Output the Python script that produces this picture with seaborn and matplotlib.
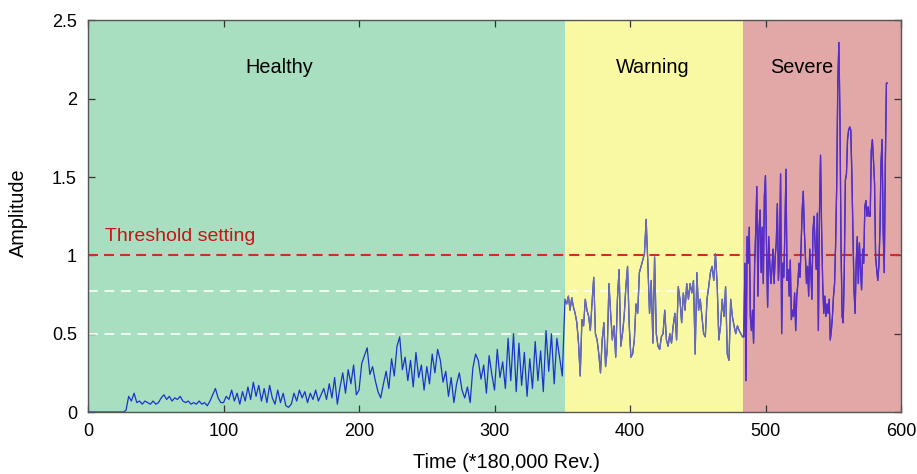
import numpy as np
import pandas as pd
import matplotlib
matplotlib.use("Agg")
import matplotlib.pyplot as plt
import seaborn as sns

# ---------------- data ----------------
healthy_amp = [
    0, 0, 0, 0, 0, 0, 0, 0, 0, 0, 0, 0, 0, 0,
    0.01, 0.10, 0.07, 0.12, 0.06, 0.07, 0.05, 0.07, 0.06, 0.05,
    0.07, 0.05, 0.06, 0.09, 0.11, 0.08, 0.10, 0.07, 0.09, 0.08,
    0.10, 0.07, 0.06, 0.07, 0.05, 0.06, 0.05, 0.07, 0.05, 0.06,
    0.04, 0.07, 0.11, 0.15, 0.09, 0.06, 0.06, 0.10, 0.08, 0.14,
    0.07, 0.12, 0.05, 0.13, 0.07, 0.16, 0.08, 0.19, 0.10, 0.17,
    0.07, 0.15, 0.06, 0.17, 0.09, 0.05, 0.14, 0.06, 0.12, 0.04,
    0.03, 0.05, 0.12, 0.07, 0.14, 0.09, 0.13, 0.06, 0.12, 0.08,
    0.14, 0.07, 0.11, 0.15, 0.08, 0.18, 0.09, 0.22, 0.05, 0.16,
    0.25, 0.12, 0.27, 0.18, 0.30, 0.11, 0.14, 0.31, 0.36, 0.41,
    0.24, 0.29, 0.20, 0.13, 0.09, 0.18, 0.26, 0.15, 0.34, 0.23,
    0.42, 0.48, 0.27, 0.35, 0.20, 0.33, 0.16, 0.38, 0.22, 0.30,
    0.14, 0.29, 0.18, 0.37, 0.25, 0.40, 0.33, 0.19, 0.26, 0.10,
    0.22, 0.06, 0.18, 0.25, 0.14, 0.09, 0.16, 0.06, 0.28, 0.37,
    0.33, 0.21, 0.30, 0.12, 0.36, 0.24, 0.14, 0.40, 0.22, 0.32,
    0.15, 0.47, 0.20, 0.50, 0.13, 0.44, 0.17, 0.38, 0.10, 0.34,
    0.15, 0.45, 0.20, 0.39, 0.13, 0.52, 0.26, 0.50, 0.18, 0.47,
    0.35, 0.23,
]

warning_amp = [
    0.72, 0.69, 0.74, 0.65, 0.73, 0.67, 0.63, 0.57, 0.44, 0.23,
    0.59, 0.55, 0.72, 0.65, 0.61, 0.52, 0.70, 0.86, 0.50, 0.46,
    0.37, 0.25, 0.46, 0.57, 0.29, 0.40, 0.82, 0.63, 0.46, 0.55,
    0.35, 0.72, 0.91, 0.42, 0.50, 0.61, 0.80, 0.93, 0.55, 0.35,
    0.37, 0.46, 0.69, 0.63, 0.89, 0.93, 0.97, 1.01, 1.23, 0.95,
    0.63, 0.84, 0.44, 0.99, 0.50, 0.42, 0.40, 0.48, 0.50, 0.65,
    0.46, 0.42, 0.50, 0.44, 0.55, 0.63, 0.46, 0.80, 0.72, 0.57,
    0.76, 0.65, 0.82, 0.72, 0.82, 0.76, 0.84, 0.37, 0.89, 0.65,
    0.72, 0.61, 0.50, 0.48, 0.72, 0.80, 0.89, 0.93, 0.84, 1.01,
    0.82, 0.46, 0.55, 0.72, 0.61, 0.80, 0.37, 0.33, 0.72, 0.61,
    0.55, 0.50, 0.55, 0.52, 0.50, 0.48,
]

severe_amp = [
    0.48, 0.95, 0.20, 1.12, 0.95, 1.18, 0.61, 0.52, 0.65, 0.44,
    0.95, 1.16, 1.44, 0.74, 1.16, 1.29, 0.89, 1.18, 0.82, 1.38,
    1.51, 1.04, 0.67, 1.12, 0.95, 0.82, 0.91, 1.04, 0.82, 0.99,
    1.08, 1.33, 0.84, 0.99, 1.52, 0.50, 0.95, 0.86, 1.16, 1.55,
    0.84, 0.91, 0.74, 0.97, 0.59, 0.65, 0.61, 0.76, 0.52, 0.74,
    0.82, 0.95, 0.86, 1.06, 1.29, 1.41, 1.16, 0.99, 0.82, 0.93,
    0.74, 1.04, 0.91, 0.72, 1.16, 1.25, 1.06, 0.91, 1.27, 0.52,
    1.27, 1.64, 1.16, 0.82, 0.63, 0.74, 0.61, 0.69, 0.63, 0.72,
    0.46, 0.52, 0.61, 0.74, 0.82, 1.08, 1.46, 2.12, 2.36, 1.87,
    1.04, 0.61, 0.57, 0.91, 1.48, 1.52, 1.74, 1.80, 1.82, 1.80,
    1.52, 1.16, 0.78, 0.63, 0.95, 1.12, 0.82, 1.08, 0.91, 0.78,
    1.04, 0.95, 1.31, 1.35, 1.25, 1.31, 1.25, 1.25, 1.67, 1.74,
    1.61, 1.46, 0.99, 0.91, 0.84, 0.93, 1.16, 1.59, 1.74, 1.16,
    0.89, 1.59, 2.10, 2.10,
]

stage_names = ["Healthy", "Warning", "Severe"]
stage_bounds = [0, 352, 483, 600]          # x extent of each stage
stage_spans = [(0, 350), (352, 483), (484, 590)]  # time span covered by each series
threshold = 1.0
ref_levels = [0.77, 0.5]
ref_ends = [468, 352]

# ---------------- styling ----------------
sns.set_theme(style="white")
plt.rcParams["font.family"] = ["Liberation Sans", "DejaVu Sans"]

bg_colors = ["#a7dfc0", "#f9f9a4", "#e2a7a7"]
line_colors = ["#1b33cc", "#6a6ab8", "#5a2bc6"]

series = [healthy_amp, warning_amp, severe_amp]
frames = []
for name, (t0, t1), vals in zip(stage_names, stage_spans, series):
    frames.append(pd.DataFrame({
        "time": np.linspace(t0, t1, len(vals)),
        "amplitude": vals,
        "stage": name,
    }))
df = pd.concat(frames, ignore_index=True)

fig = plt.figure(figsize=(9.17, 4.74), dpi=100)
ax = fig.add_axes([0.096, 0.1308, 0.8866, 0.826])

for i, c in enumerate(bg_colors):
    ax.axvspan(stage_bounds[i], stage_bounds[i + 1], color=c, lw=0, zorder=0)

for lvl, end in zip(ref_levels, ref_ends):
    ax.hlines(lvl, 0, end, colors="white", linestyles=(0, (5, 3.5)),
              lw=1.4, alpha=0.85, zorder=1)

ax.axhline(threshold, color="#d42a2a", ls=(0, (4.8, 2.9)), lw=1.5, zorder=2)

# full series in blue, then later stages recoloured on top
sns.lineplot(data=df, x="time", y="amplitude", estimator=None, color=line_colors[0],
             lw=0.9, ax=ax, zorder=3)
for name, col in zip(stage_names[1:], line_colors[1:]):
    sns.lineplot(data=df[df["stage"] == name], x="time", y="amplitude", estimator=None,
                 color=col, lw=0.9, ax=ax, zorder=4)

ax.set_xlim(0, 600)
ax.set_ylim(0, 2.5)
ax.set_xticks([0, 100, 200, 300, 400, 500, 600])
ax.set_yticks([0, 0.5, 1, 1.5, 2, 2.5])
ax.set_yticklabels(["0", "0.5", "1", "1.5", "2", "2.5"])
ax.tick_params(direction="in", length=5, width=0.9, color="#333333",
               top=True, right=True, bottom=True, left=True,
               labelsize=13, pad=8, labelcolor="black")

for s in ax.spines.values():
    s.set_color("#555555")
    s.set_linewidth(1.0)
    s.set_zorder(5)

ax.set_xlabel("Time (*180,000 Rev.)", fontsize=14.3, color="black")
ax.set_ylabel("Amplitude", fontsize=14.3, color="black")
ax.xaxis.set_label_coords(0.515, -0.105)
ax.yaxis.set_label_coords(-0.074, 0.51)

ax.text(12.5, 1.12, "Threshold setting", color="#c81414", fontsize=14,
        ha="left", va="center", zorder=6)
label_x = [141, 417, 527]
for name, lx in zip(stage_names, label_x):
    ax.text(lx, 2.2, name, fontsize=14.3, ha="center", va="center",
            color="black", zorder=6)

fig.savefig("out.png", dpi=100)
